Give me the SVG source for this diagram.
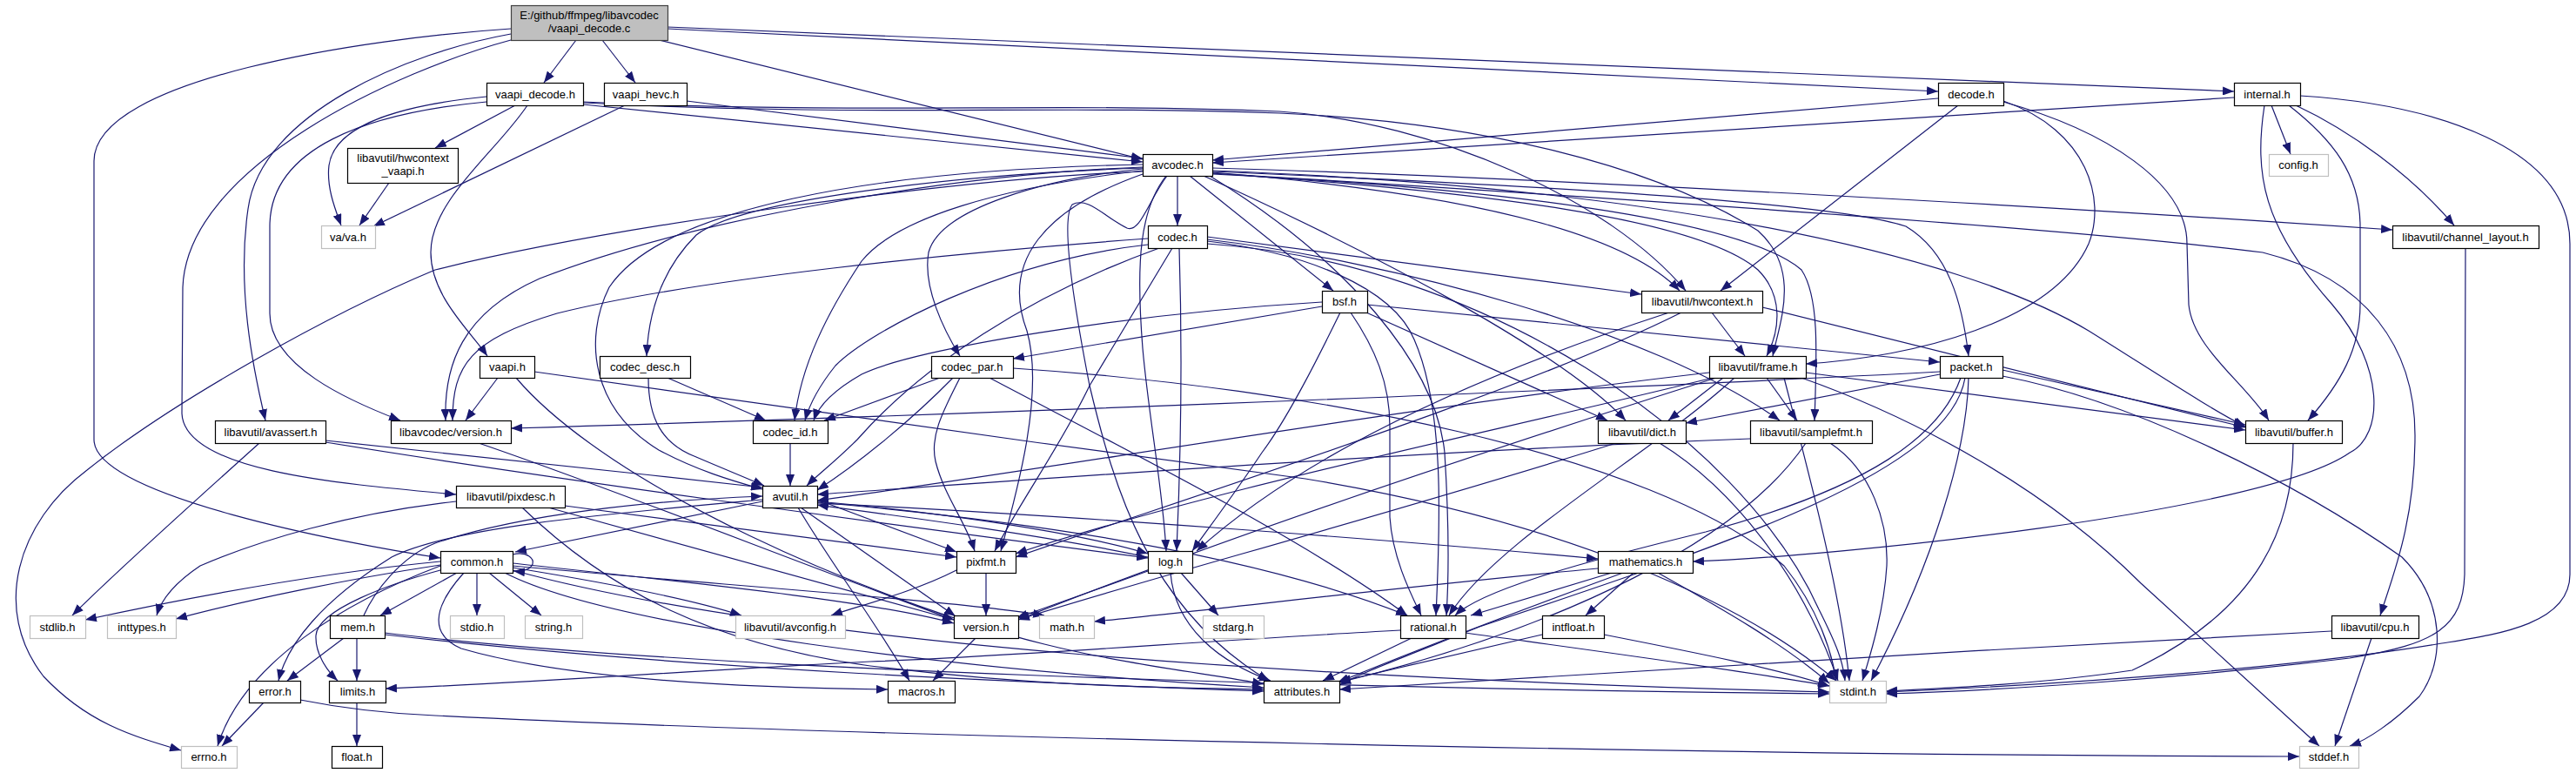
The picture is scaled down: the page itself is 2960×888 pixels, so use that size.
<svg xmlns="http://www.w3.org/2000/svg" width="2960" height="888" viewBox="0 0 2960 888">
<defs>
<marker id="a" markerWidth="13" markerHeight="10" refX="13" refY="5" orient="auto" markerUnits="userSpaceOnUse"><path d="M0,0 L13,5 L0,10 z" fill="#191970"/></marker>
<style>
.e path{fill:none;stroke:#191970;stroke-width:1.2;marker-end:url(#a)}
.n rect{fill:#fff;stroke:#000;stroke-width:1.2}
.g rect{fill:#fff;stroke:#bfbfbf;stroke-width:1.2}
.r rect{fill:#bfbfbf;stroke:#404040;stroke-width:1.2}
text{font-family:"Liberation Sans",Arial,sans-serif;font-size:13px;text-anchor:middle;fill:#000}
</style>
</defs>
<rect width="2960" height="888" fill="#fff"/>
<g id="edges" class="e">
<path d="M662,46 L625,95"/>
<path d="M692,46 L730,95"/>
<path d="M757,46 L1313,183"/>
<path d="M767,33 L2227,105"/>
<path d="M767,31 L2567,105"/>
<path d="M587,33 C420,44 108,90 108,185 L108,505 C108,570 400,625 506,641"/>
<path d="M587,39 C470,60 300,130 285,240 C272,330 290,420 305,483"/>
<path d="M587,46 C460,80 215,190 210,330 L209,475 C212,540 380,555 524,568"/>
<path d="M559,111 C470,120 385,140 378,190 C375,215 385,240 392,259"/>
<path d="M559,117 C420,130 310,170 310,260 L310,360 C310,420 400,460 460,483"/>
<path d="M592,121 L500,170"/>
<path d="M606,121 C570,175 495,230 495,290 C495,340 540,380 560,409"/>
<path d="M670,120 L1313,186"/>
<path d="M670,118 C1000,135 1200,120 1470,130 C1700,140 1900,190 2020,265 C2070,310 2045,370 2037,409"/>
<path d="M670,117 C1000,132 1200,117 1470,128 C1650,140 1850,230 1937,334"/>
<path d="M718,121 L429,260"/>
<path d="M789,116 L1313,182"/>
<path d="M447,210 L413,259"/>
<path d="M2227,113 L1393,184"/>
<path d="M2302,116 C2400,150 2420,230 2400,280 C2360,370 2200,410 2075,418"/>
<path d="M2302,117 C2420,150 2513,210 2513,280 L2515,350 C2520,400 2580,440 2607,483"/>
<path d="M2250,121 L1977,334"/>
<path d="M2567,112 L1393,187"/>
<path d="M2610,121 L2632,177"/>
<path d="M2638,121 C2700,150 2770,200 2820,259"/>
<path d="M2643,110 C2800,120 2953,170 2953,280 L2953,660 C2953,720 2860,730 2800,740 C2650,765 2400,785 2167,795"/>
<path d="M2630,121 C2680,160 2712,200 2712,260 L2712,350 C2712,400 2690,440 2652,483"/>
<path d="M2602,121 C2590,200 2600,260 2680,350 C2740,420 2740,500 2700,520 C2600,590 2100,640 1945,645"/>
<path d="M1353,202 L1353,259"/>
<path d="M1367,202 L1532,334"/>
<path d="M1383,202 C1600,300 1800,410 1868,483"/>
<path d="M1340,202 C1310,240 1305,300 1313,400 C1320,480 1336,560 1340,633"/>
<path d="M1341,202 C1320,230 1310,268 1295,262 C1270,250 1250,225 1232,235 C1220,250 1230,330 1252,443 C1280,560 1320,700 1458,782"/>
<path d="M1313,194 C1200,205 1080,240 1067,290 C1060,330 1085,380 1103,409"/>
<path d="M1313,193 C1100,200 850,230 800,270 C760,310 745,360 743,409"/>
<path d="M1313,192 C1100,200 800,250 620,320 C530,360 510,420 512,483"/>
<path d="M1313,189 C1000,195 760,240 700,330 C670,390 680,470 757,517 C800,540 840,552 876,562"/>
<path d="M1313,197 C1100,205 700,260 500,310 C380,360 200,460 100,540 C20,600 -10,700 50,777 C100,830 150,845 208,862"/>
<path d="M1313,196 C1150,215 1030,250 990,300 C950,360 920,420 913,483"/>
<path d="M1313,200 C1200,240 1150,300 1180,380 C1200,450 1170,560 1150,633"/>
<path d="M1390,202 C1550,300 1650,420 1660,520 C1665,600 1665,660 1662,707"/>
<path d="M1393,200 C1700,215 2000,250 2070,310 C2090,340 2088,400 2085,483"/>
<path d="M1393,196 C1900,215 2250,290 2400,380 C2480,430 2540,470 2580,490"/>
<path d="M1393,199 C1900,230 2400,265 2600,290 C2720,320 2775,400 2775,500 C2775,600 2750,660 2735,707"/>
<path d="M1393,193 C1800,205 2400,240 2749,264"/>
<path d="M1393,199 C1700,220 1950,250 2020,310 C2050,340 2045,380 2030,409"/>
<path d="M1393,198 C1600,215 1850,250 1930,334"/>
<path d="M1393,197 C1700,210 2100,230 2190,260 C2240,290 2255,350 2262,409"/>
<path d="M1387,280 C1700,300 2000,500 2090,700 C2110,740 2118,760 2120,782"/>
<path d="M1332,285 C1180,340 1060,420 985,505 C960,530 940,545 927,558"/>
<path d="M1319,281 C1150,300 1000,380 960,420 C940,445 930,465 925,483"/>
<path d="M1387,272 L1886,338"/>
<path d="M1355,285 C1358,380 1358,500 1352,633"/>
<path d="M1347,285 L1252,443 C1220,510 1170,580 1143,633"/>
<path d="M1387,277 C1500,290 1600,330 1625,390 C1660,470 1655,600 1650,707"/>
<path d="M1387,275 C1600,300 1900,380 2045,483"/>
<path d="M1319,274 C1100,290 800,320 640,360 C540,390 520,420 520,483"/>
<path d="M1571,350 L2229,416"/>
<path d="M1570,359 L1847,483"/>
<path d="M1540,359 C1515,410 1480,480 1450,520 C1420,565 1390,605 1370,633"/>
<path d="M1552,359 C1580,400 1597,440 1597,490 L1597,594 C1600,640 1620,680 1633,707"/>
<path d="M1519,347 C1300,360 1050,400 990,430 C955,450 940,468 935,483"/>
<path d="M1519,352 L1164,412"/>
<path d="M572,434 L535,483"/>
<path d="M593,434 C700,560 1000,690 1200,740 C1300,765 1400,775 1452,786"/>
<path d="M614,427 C800,455 1200,510 1500,550 C1800,600 2000,690 2110,782"/>
<path d="M767,434 L880,483"/>
<path d="M745,434 C745,480 760,510 800,525 C835,540 860,550 878,558"/>
<path d="M908,509 L908,558"/>
<path d="M1080,434 L947,483"/>
<path d="M1095,434 C1050,480 990,530 939,563"/>
<path d="M1103,434 C1085,470 1068,500 1075,530 C1085,570 1110,600 1120,633"/>
<path d="M1137,434 C1300,520 1500,620 1617,707"/>
<path d="M1164,423 C1500,445 1900,520 2050,650 C2090,700 2105,750 2110,782"/>
<path d="M2075,428 L2580,494"/>
<path d="M2070,434 C2200,480 2350,560 2460,670 L2665,857"/>
<path d="M2050,434 C2080,550 2115,680 2125,782"/>
<path d="M1964,428 C1600,470 1200,540 939,575"/>
<path d="M1980,434 L1917,483"/>
<path d="M1993,434 C1900,520 1720,620 1665,707"/>
<path d="M2030,434 L2065,483"/>
<path d="M1968,434 C1700,500 1400,560 1167,636"/>
<path d="M1972,434 C1700,520 1400,620 1170,712"/>
<path d="M1967,359 L2005,409"/>
<path d="M2025,353 L2580,491"/>
<path d="M1918,359 C1700,430 1500,520 1375,633"/>
<path d="M1932,359 C1750,450 1400,560 1167,640"/>
<path d="M2229,427 C1800,450 1000,480 587,492"/>
<path d="M2229,430 L1937,486"/>
<path d="M2301,425 L2580,488"/>
<path d="M2301,432 C2450,460 2640,555 2760,640 C2810,690 2810,760 2780,800 C2750,830 2720,850 2700,857"/>
<path d="M2262,434 C2260,520 2220,650 2150,782"/>
<path d="M2253,434 C2230,500 2150,560 1960,611 C1800,650 1700,680 1672,707"/>
<path d="M2258,434 C2240,540 2000,620 1700,720 C1600,760 1560,775 1539,787"/>
<path d="M1857,509 C1600,590 1300,670 1170,712"/>
<path d="M1907,509 C1990,560 2070,660 2112,782"/>
<path d="M2011,504 C1600,520 1200,550 939,568"/>
<path d="M2075,509 C2000,620 1800,720 1539,784"/>
<path d="M2103,509 C2150,540 2170,600 2168,650 C2165,700 2150,750 2140,782"/>
<path d="M2635,509 C2635,600 2600,700 2450,770 C2350,785 2250,790 2167,794"/>
<path d="M2833,285 L2832,660 C2830,720 2800,740 2700,756 C2500,780 2300,793 2167,797"/>
<path d="M2725,733 L2683,857"/>
<path d="M2679,725 C2300,745 1800,775 1539,792"/>
<path d="M524,576 C400,590 300,620 230,650 C200,670 185,690 180,707"/>
<path d="M649,581 L1099,640"/>
<path d="M630,583 L1096,712"/>
<path d="M600,583 C700,680 820,740 1000,765 C1200,790 1350,790 1452,792"/>
<path d="M298,509 C230,570 130,660 83,707"/>
<path d="M374,506 C500,520 700,540 876,560"/>
<path d="M374,508 C600,545 1000,600 1319,641"/>
<path d="M550,509 C700,560 900,640 1096,712"/>
<path d="M876,576 L592,634"/>
<path d="M877,574 C700,590 520,605 450,640 C370,690 330,740 320,782"/>
<path d="M939,578 C1200,590 1600,620 1836,642"/>
<path d="M939,576 C1100,590 1250,615 1319,636"/>
<path d="M939,574 L1099,634"/>
<path d="M920,583 L1098,708"/>
<path d="M917,583 C950,640 1010,720 1045,782"/>
<path d="M939,577 C1200,600 1450,640 1617,707"/>
<path d="M589,637 C606,633 614,642 612,648 C610,654 600,657 590,656"/>
<path d="M548,658 L548,707"/>
<path d="M562,658 L622,707"/>
<path d="M589,652 C700,670 800,690 852,707"/>
<path d="M525,658 L437,707"/>
<path d="M506,655 C450,670 365,700 363,730 C362,750 375,770 388,782"/>
<path d="M506,650 C400,690 280,760 250,857"/>
<path d="M506,649 C400,665 280,690 202,711"/>
<path d="M506,645 C350,660 200,690 98,712"/>
<path d="M589,650 C800,670 1100,690 1200,707"/>
<path d="M589,655 C900,740 1500,780 2102,795"/>
<path d="M580,658 C700,720 1100,770 1452,790"/>
<path d="M533,658 C495,700 495,730 530,745 C650,780 850,790 1020,792"/>
<path d="M589,647 C800,670 1000,690 1096,716"/>
<path d="M395,733 L330,782"/>
<path d="M410,733 L410,782"/>
<path d="M442,727 C800,770 1500,790 2102,797"/>
<path d="M442,729 C800,770 1200,785 1452,794"/>
<path d="M418,707 C430,680 460,640 500,624 C600,590 750,575 876,570"/>
<path d="M303,807 L255,857"/>
<path d="M345,804 C400,815 450,820 500,822 C1000,847 2000,868 2642,869"/>
<path d="M410,807 L410,857"/>
<path d="M1622,733 L1520,782"/>
<path d="M1609,724 C1400,735 1150,755 1000,760 C800,770 600,785 443,791"/>
<path d="M1684,727 C1850,750 2000,770 2102,788"/>
<path d="M1836,653 C1600,675 1400,700 1257,714"/>
<path d="M1852,658 L1690,707"/>
<path d="M1877,658 L1822,707"/>
<path d="M1865,658 C1750,700 1620,750 1537,784"/>
<path d="M1905,658 C1980,700 2050,740 2102,785"/>
<path d="M1772,729 L1539,783"/>
<path d="M1843,729 C1950,750 2050,770 2102,788"/>
<path d="M1357,658 L1400,707"/>
<path d="M1319,656 L1168,710"/>
<path d="M1345,658 C1350,720 1400,760 1460,782"/>
<path d="M1319,640 C1200,615 1050,595 939,580"/>
<path d="M1121,733 L1072,782"/>
<path d="M1133,658 L1133,707"/>
<path d="M1099,655 C1050,680 990,695 955,707"/>
</g>
<g id="n_root" class="r"><rect x="587.5" y="6.5" width="180" height="40"/><text x="677" y="22">E:/github/ffmpeg/libavcodec</text><text x="677" y="37">/vaapi_decode.c</text></g>
<g id="n_vaapi_decode_h" class="n"><rect x="559.5" y="95.5" width="111" height="26"/><text x="615" y="113">vaapi_decode.h</text></g>
<g id="n_vaapi_hevc_h" class="n"><rect x="694.5" y="95.5" width="95" height="26"/><text x="742" y="113">vaapi_hevc.h</text></g>
<g id="n_decode_h" class="n"><rect x="2227.5" y="95.5" width="75" height="26"/><text x="2265" y="113">decode.h</text></g>
<g id="n_internal_h" class="n"><rect x="2567.5" y="95.5" width="76" height="26"/><text x="2605" y="113">internal.h</text></g>
<g id="n_hwcontext_vaapi_h" class="n"><rect x="399.5" y="170.5" width="127" height="40"/><text x="463" y="186">libavutil/hwcontext</text><text x="463" y="201">_vaapi.h</text></g>
<g id="n_va_h" class="g"><rect x="369.5" y="259.5" width="62" height="26"/><text x="400" y="277">va/va.h</text></g>
<g id="n_avcodec_h" class="n"><rect x="1313.5" y="177.5" width="80" height="25"/><text x="1353" y="194">avcodec.h</text></g>
<g id="n_config_h" class="g"><rect x="2607.5" y="177.5" width="68" height="25"/><text x="2641" y="194">config.h</text></g>
<g id="n_codec_h" class="n"><rect x="1319.5" y="259.5" width="68" height="26"/><text x="1353" y="277">codec.h</text></g>
<g id="n_channel_layout_h" class="n"><rect x="2749.5" y="259.5" width="168" height="26"/><text x="2833" y="277">libavutil/channel_layout.h</text></g>
<g id="n_hwcontext_h" class="n"><rect x="1886.5" y="334.5" width="139" height="25"/><text x="1956" y="351">libavutil/hwcontext.h</text></g>
<g id="n_bsf_h" class="n"><rect x="1519.5" y="334.5" width="52" height="25"/><text x="1545" y="351">bsf.h</text></g>
<g id="n_vaapi_h" class="n"><rect x="551.5" y="409.5" width="63" height="25"/><text x="583" y="426">vaapi.h</text></g>
<g id="n_codec_desc_h" class="n"><rect x="689.5" y="409.5" width="104" height="25"/><text x="741" y="426">codec_desc.h</text></g>
<g id="n_codec_par_h" class="n"><rect x="1070.5" y="409.5" width="94" height="25"/><text x="1117" y="426">codec_par.h</text></g>
<g id="n_frame_h" class="n"><rect x="1964.5" y="409.5" width="111" height="25"/><text x="2020" y="426">libavutil/frame.h</text></g>
<g id="n_packet_h" class="n"><rect x="2229.5" y="409.5" width="72" height="25"/><text x="2265" y="426">packet.h</text></g>
<g id="n_avassert_h" class="n"><rect x="247.5" y="483.5" width="127" height="26"/><text x="311" y="501">libavutil/avassert.h</text></g>
<g id="n_lavc_version_h" class="n"><rect x="449.5" y="483.5" width="138" height="26"/><text x="518" y="501">libavcodec/version.h</text></g>
<g id="n_codec_id_h" class="n"><rect x="865.5" y="483.5" width="86" height="26"/><text x="908" y="501">codec_id.h</text></g>
<g id="n_dict_h" class="n"><rect x="1836.5" y="483.5" width="101" height="26"/><text x="1887" y="501">libavutil/dict.h</text></g>
<g id="n_samplefmt_h" class="n"><rect x="2011.5" y="483.5" width="140" height="26"/><text x="2081" y="501">libavutil/samplefmt.h</text></g>
<g id="n_buffer_h" class="n"><rect x="2580.5" y="483.5" width="111" height="26"/><text x="2636" y="501">libavutil/buffer.h</text></g>
<g id="n_pixdesc_h" class="n"><rect x="524.5" y="558.5" width="125" height="25"/><text x="587" y="575">libavutil/pixdesc.h</text></g>
<g id="n_avutil_h" class="n"><rect x="876.5" y="558.5" width="63" height="25"/><text x="908" y="575">avutil.h</text></g>
<g id="n_common_h" class="n"><rect x="506.5" y="633.5" width="83" height="25"/><text x="548" y="650">common.h</text></g>
<g id="n_pixfmt_h" class="n"><rect x="1099.5" y="633.5" width="68" height="25"/><text x="1133" y="650">pixfmt.h</text></g>
<g id="n_log_h" class="n"><rect x="1319.5" y="633.5" width="51" height="25"/><text x="1345" y="650">log.h</text></g>
<g id="n_mathematics_h" class="n"><rect x="1836.5" y="633.5" width="109" height="25"/><text x="1891" y="650">mathematics.h</text></g>
<g id="n_stdlib_h" class="g"><rect x="34.5" y="707.5" width="64" height="26"/><text x="66" y="725">stdlib.h</text></g>
<g id="n_inttypes_h" class="g"><rect x="123.5" y="707.5" width="79" height="26"/><text x="163" y="725">inttypes.h</text></g>
<g id="n_mem_h" class="n"><rect x="379.5" y="707.5" width="63" height="26"/><text x="411" y="725">mem.h</text></g>
<g id="n_stdio_h" class="g"><rect x="517.5" y="707.5" width="62" height="26"/><text x="548" y="725">stdio.h</text></g>
<g id="n_string_h" class="g"><rect x="603.5" y="707.5" width="66" height="26"/><text x="636" y="725">string.h</text></g>
<g id="n_avconfig_h" class="g"><rect x="845.5" y="707.5" width="126" height="26"/><text x="908" y="725">libavutil/avconfig.h</text></g>
<g id="n_version_h" class="n"><rect x="1096.5" y="707.5" width="74" height="26"/><text x="1133" y="725">version.h</text></g>
<g id="n_math_h" class="g"><rect x="1194.5" y="707.5" width="63" height="26"/><text x="1226" y="725">math.h</text></g>
<g id="n_stdarg_h" class="g"><rect x="1382.5" y="707.5" width="70" height="26"/><text x="1417" y="725">stdarg.h</text></g>
<g id="n_rational_h" class="n"><rect x="1609.5" y="707.5" width="75" height="26"/><text x="1647" y="725">rational.h</text></g>
<g id="n_intfloat_h" class="n"><rect x="1772.5" y="707.5" width="71" height="26"/><text x="1808" y="725">intfloat.h</text></g>
<g id="n_cpu_h" class="n"><rect x="2679.5" y="707.5" width="100" height="26"/><text x="2729" y="725">libavutil/cpu.h</text></g>
<g id="n_error_h" class="n"><rect x="286.5" y="782.5" width="59" height="25"/><text x="316" y="799">error.h</text></g>
<g id="n_limits_h" class="n"><rect x="378.5" y="782.5" width="65" height="25"/><text x="411" y="799">limits.h</text></g>
<g id="n_macros_h" class="n"><rect x="1020.5" y="782.5" width="77" height="25"/><text x="1059" y="799">macros.h</text></g>
<g id="n_attributes_h" class="n"><rect x="1452.5" y="782.5" width="87" height="25"/><text x="1496" y="799">attributes.h</text></g>
<g id="n_stdint_h" class="g"><rect x="2102.5" y="782.5" width="65" height="25"/><text x="2135" y="799">stdint.h</text></g>
<g id="n_errno_h" class="g"><rect x="208.5" y="857.5" width="64" height="25"/><text x="240" y="874">errno.h</text></g>
<g id="n_float_h" class="n"><rect x="381.5" y="857.5" width="58" height="25"/><text x="410" y="874">float.h</text></g>
<g id="n_stddef_h" class="g"><rect x="2642.5" y="857.5" width="68" height="25"/><text x="2676" y="874">stddef.h</text></g>
</svg>
